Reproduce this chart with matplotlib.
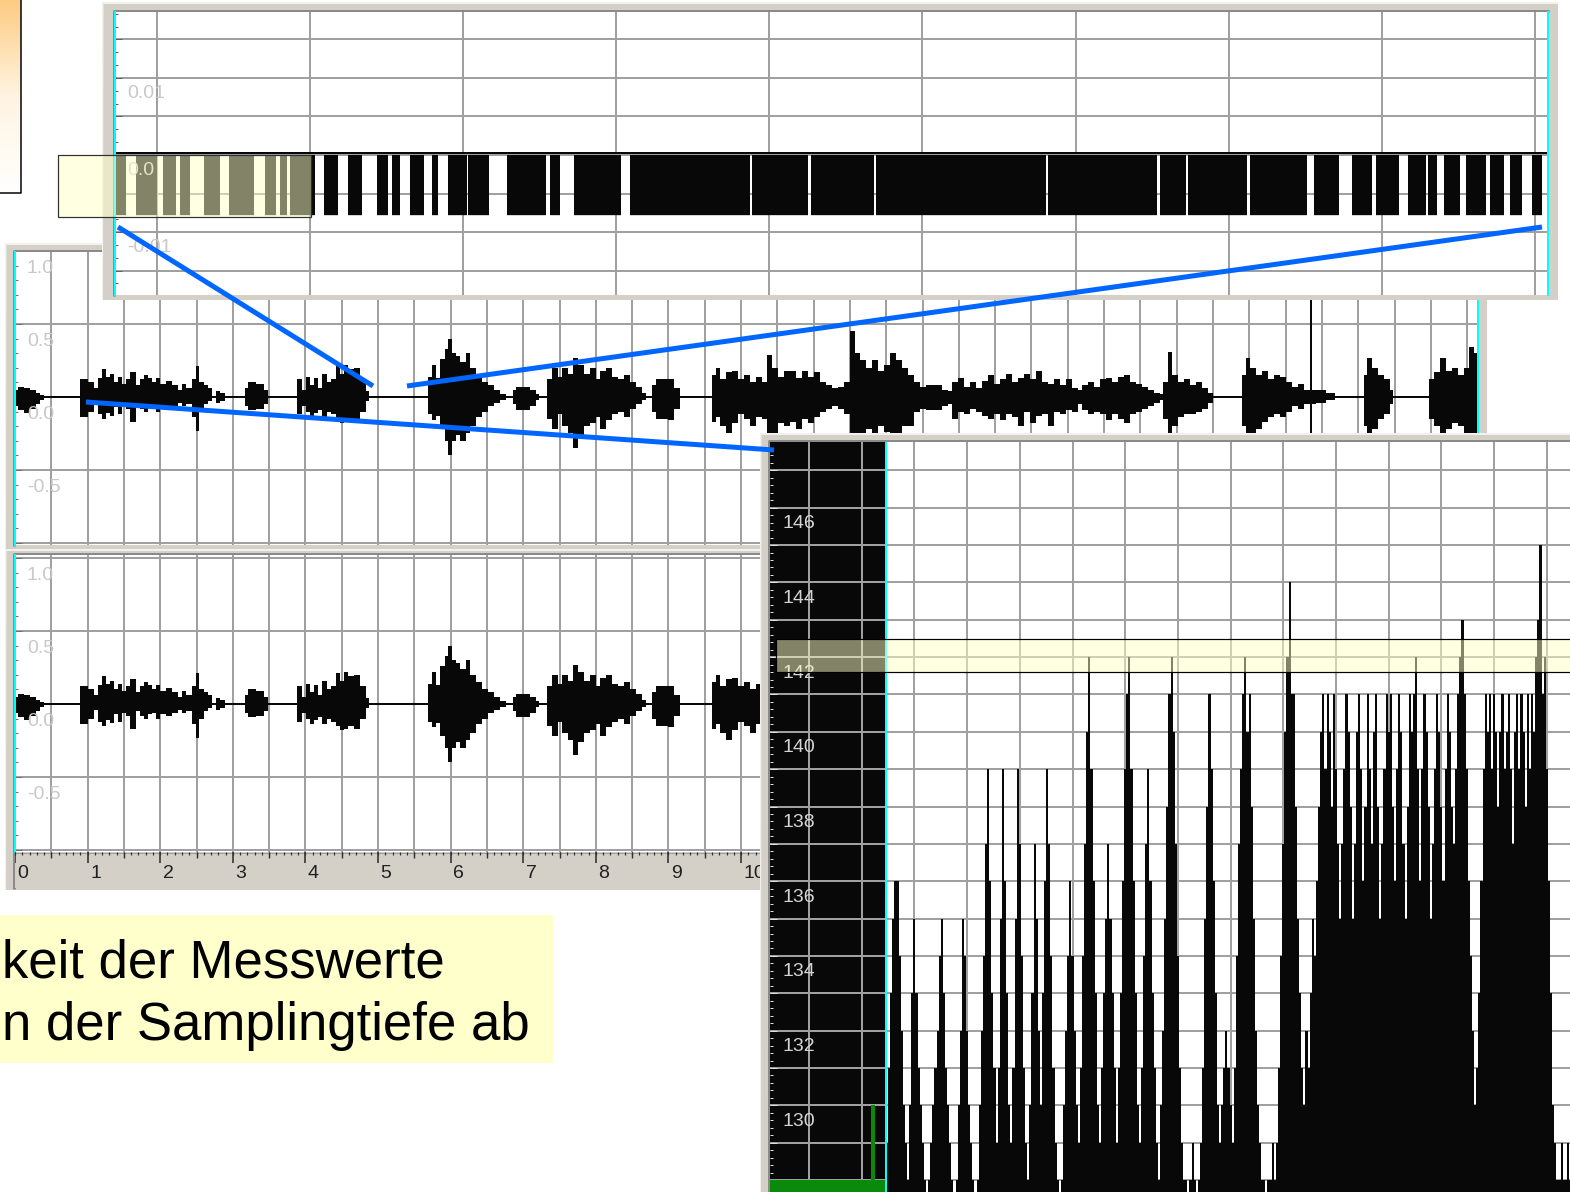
import numpy as np
import matplotlib
matplotlib.use("Agg")
import matplotlib.pyplot as plt
from matplotlib.patches import Rectangle
from matplotlib.colors import LinearSegmentedColormap
from matplotlib.ticker import MultipleLocator, FixedLocator

plt.rcParams["font.family"] = ["Liberation Sans", "DejaVu Sans"]

W, H = 1570, 1192
PX = 0.72  # points per pixel at dpi 100

# ---------------------------------------------------------------- data
# speech waveform envelope: segment start (s), upper and lower peak, held until next start
env_t = [
    0.00, 0.04, 0.12, 0.21, 0.29, 0.34, 0.40, 0.45,
    0.90, 1.01, 1.09, 1.14, 1.20, 1.25, 1.31, 1.36, 1.42, 1.47, 1.53, 1.58, 1.67, 1.72, 1.78,
    1.83, 1.89, 1.94, 2.00, 2.08, 2.16, 2.25, 2.30, 2.36, 2.44, 2.49, 2.53, 2.60, 2.66, 2.71,
    2.77, 2.82, 2.89,
    3.17, 3.21, 3.32, 3.43, 3.48,
    3.88, 3.95, 4.01, 4.06, 4.12, 4.17, 4.23, 4.30, 4.35, 4.42, 4.48, 4.53, 4.59, 4.67, 4.75,
    4.83, 4.88,
    5.69, 5.74, 5.80, 5.85, 5.92, 5.96, 6.02, 6.07, 6.13, 6.21, 6.27, 6.35, 6.43, 6.52, 6.60,
    6.68, 6.76,
    6.86, 6.90, 7.09, 7.18, 7.22,
    7.33, 7.40, 7.48, 7.53, 7.62, 7.69, 7.75, 7.84, 7.92, 8.00, 8.06, 8.14, 8.22, 8.31, 8.39,
    8.47, 8.55, 8.64, 8.69,
    8.77, 8.83, 8.99, 9.08, 9.16,
    9.60, 9.66, 9.71, 9.79, 9.88, 9.96, 10.04, 10.12, 10.21, 10.29,
    10.36, 10.43, 10.51, 10.59, 10.67, 10.76, 10.84, 10.92, 11.01, 11.09,
    11.17, 11.25, 11.34, 11.42, 11.50, 11.57, 11.64, 11.72, 11.80, 11.89,
    11.97, 12.05, 12.13, 12.22, 12.30, 12.38, 12.47, 12.55, 12.77, 12.85,
    12.91, 12.99, 13.07, 13.15, 13.24, 13.32, 13.40, 13.48, 13.57, 13.65,
    13.73, 13.82, 13.90, 13.98, 14.06, 14.15, 14.23, 14.31, 14.39, 14.48,
    14.56, 14.64, 14.70, 14.78, 14.86, 14.94, 15.03, 15.11, 15.19, 15.28,
    15.36, 15.44, 15.52, 15.61, 15.69, 15.77, 15.81, 15.88, 15.94, 16.02,
    16.10, 16.18, 16.27, 16.35, 16.43, 16.50,
    16.90, 16.96, 17.01, 17.09, 17.18, 17.26, 17.34, 17.42, 17.51, 17.59, 17.67, 17.75, 17.84,
    17.87, 17.92, 18.06, 18.18,
    18.58, 18.62, 18.69, 18.77, 18.86, 18.94, 18.98,
    19.48, 19.54, 19.63, 19.71, 19.79, 19.88, 19.96, 20.03, 20.10,
]
env_hi = [
    .05, .07, .06, .05, .03, .015, .01, 0,
    .12, .10, .06, .13, .19, .14, .16, .10, .14, .09, .12, .17, .08, .12, .15,
    .13, .10, .13, .09, .11, .08, .05, .09, .06, .12, .21, .10, .08, .06, .01,
    .04, .03, 0,
    .06, .10, .09, .05, 0,
    .12, .05, .14, .08, .13, .06, .16, .10, .12, .21, .16, .22, .19, .20, .12,
    .04, 0,
    .14, .22, .13, .26, .33, .40, .30, .28, .24, .30, .20, .15, .10, .08, .05,
    .02, 0,
    .05, .07, .05, .02, 0,
    .12, .20, .14, .20, .16, .27, .22, .16, .20, .12, .18, .20, .14, .12, .15,
    .10, .07, .03, 0,
    .08, .12, .12, .06, 0,
    .15, .20, .12, .17, .18, .12, .15, .10, .14, .10,
    .29, .20, .14, .18, .18, .13, .18, .14, .17, .10,
    .08, .06, .07, .10, .45, .30, .25, .20, .25, .18,
    .22, .30, .25, .20, .15, .10, .07, .08, .05, .04,
    .10, .13, .07, .10, .06, .11, .15, .09, .12, .16,
    .10, .13, .16, .12, .18, .10, .09, .12, .08, .12,
    .06, .05, .08, .10, .07, .12, .13, .10, .14, .15,
    .10, .09, .07, .05, .03, .02, .10, .31, .15, .10,
    .12, .08, .10, .06, .03, 0,
    .15, .27, .20, .15, .18, .12, .15, .14, .10, .07, .09, .05, .70,
    .05, .05, .03, 0,
    .15, .27, .20, .15, .12, .05, 0,
    .12, .17, .27, .18, .20, .15, .20, .34, .30,
]
env_lo = [
    -.06, -.09, -.11, -.08, -.05, -.02, -.01, 0,
    -.14, -.10, -.04, -.12, -.15, -.11, -.13, -.07, -.12, -.06, -.08, -.17, -.05, -.08, -.10,
    -.07, -.06, -.10, -.07, -.08, -.06, -.04, -.06, -.05, -.14, -.23, -.10, -.05, -.03, -.01,
    -.04, -.03, 0,
    -.06, -.09, -.08, -.05, 0,
    -.12, -.06, -.10, -.14, -.11, -.09, -.14, -.10, -.12, -.15, -.18, -.17, -.15, -.17, -.10,
    -.03, 0,
    -.12, -.16, -.13, -.22, -.30, -.40, -.30, -.26, -.30, -.25, -.20, -.14, -.10, -.06, -.04,
    -.02, 0,
    -.05, -.09, -.06, -.02, 0,
    -.15, -.22, -.12, -.20, -.25, -.35, -.26, -.20, -.18, -.14, -.22, -.16, -.12, -.10, -.14,
    -.08, -.05, -.02, 0,
    -.10, -.15, -.16, -.08, 0,
    -.17, -.14, -.20, -.25, -.18, -.12, -.15, -.20, -.14, -.15,
    -.30, -.25, -.18, -.20, -.17, -.22, -.15, -.18, -.14, -.10,
    -.08, -.06, -.08, -.12, -.35, -.30, -.28, -.22, -.25, -.20,
    -.24, -.30, -.28, -.20, -.20, -.10, -.08, -.09, -.06, -.05,
    -.15, -.10, -.12, -.08, -.10, -.13, -.15, -.12, -.16, -.12,
    -.14, -.20, -.10, -.18, -.13, -.12, -.20, -.10, -.12, -.09,
    -.10, -.05, -.09, -.12, -.10, -.12, -.16, -.12, -.15, -.18,
    -.12, -.10, -.08, -.06, -.04, -.02, -.15, -.30, -.20, -.14,
    -.12, -.12, -.10, -.08, -.04, 0,
    -.20, -.30, -.25, -.22, -.17, -.14, -.12, -.14, -.10, -.06, -.08, -.05, -.30,
    -.05, -.04, -.02, 0,
    -.20, -.30, -.22, -.15, -.12, -.05, 0,
    -.15, -.20, -.30, -.22, -.18, -.20, -.25, -.35, -.30,
]
wave_end = 20.15

# quantisation noise in a pause: run lengths in samples, alternating 0 and -1 LSB
noise_runs = [
    1, 10, 10, 21, 6, 13, 4, 10, 14, 16, 9, 25, 11, 11, 4, 7, 3, 25, 9, 14,
    10, 14, 15, 11, 4, 8, 10, 14, 8, 6, 10, 19, 1, 21, 18, 39, 4, 10, 14, 47,
    9, 120, 2, 56, 3, 63, 2, 170, 2, 109, 3, 26, 2, 59, 3, 57, 7, 25, 13, 20,
    4, 23, 9, 18, 2, 9, 7, 16, 6, 20, 4, 14, 6, 12, 10, 10, 6,
]
lsb = 1 / 128

# 8-bit sample values, before the cursor (green) and after it (black)
pre_samples = [
    128, 128, 128, 128, 128, 128, 128, 128, 128, 128, 128, 128, 128, 128,
    128, 128, 128, 128, 128, 128, 128, 128, 128, 128, 128, 128, 128, 128,
    128, 128, 128, 128, 128, 128, 128, 128, 128, 128, 128, 128, 128, 128,
    128, 128, 128, 128, 128, 128, 130, 130, 128, 128, 128, 128, 128,
]
pre_start = -18.5
samples = [
    129, 131, 133, 135, 136, 136, 134, 132, 130, 129, 128,
    130, 133, 135, 133, 131, 130, 129, 128, 127, 128,
    129, 130, 131, 132, 134, 135, 133, 131, 130, 129, 128, 127,
    128, 130, 132, 135, 134, 132, 130, 129, 128, 127,
    128, 130, 132, 134, 137, 139, 136, 133, 131, 129,
    131, 135, 139, 136, 133, 130, 129,
    131, 135, 139, 137, 134, 131, 129, 128,
    130, 133, 137, 135, 132, 130,
    133, 136, 139, 137, 134, 131, 129, 128, 127,
    128, 130, 132, 134, 136, 134, 132, 130, 129, 131,
    134, 137, 140, 142, 139, 136, 133, 130,
    129, 131, 133, 135, 137, 135, 133, 131, 129, 131,
    133, 136, 139, 141, 142, 139, 136, 133, 130, 129,
    131, 134, 137, 139, 136, 133, 131, 129, 128, 130,
    132, 135, 138, 141, 142, 140, 137, 134, 131, 129,
    128, 128, 127, 128, 129, 128, 127, 128, 129,
    131, 135, 138, 141, 139, 136, 133, 130, 129,
    130, 131, 132, 131, 130, 129, 131, 134,
    137, 139, 141, 142, 140, 141, 138, 135, 132,
    130, 129, 128, 128, 127, 128, 128, 129, 128, 129, 131,
    134, 137, 140, 142, 144, 141, 141, 138, 135, 133,
    131, 130, 132, 131, 133, 135, 134, 136, 138, 140, 141, 139, 141, 140, 138, 141, 139,
    137, 135,
    137, 139, 141, 140, 138, 135, 137, 140, 141, 139, 136, 138, 141, 139, 137, 140, 141,
    138, 135, 137, 139, 141, 140, 141, 138, 136, 139, 141, 140, 137, 135, 138, 141, 140,
    141, 142, 139, 136, 139, 141,
    140, 138, 135, 137, 139, 141, 140, 138, 136, 139, 141, 140, 138, 137, 139, 141, 142,
    143, 141, 139,
    136, 134, 132, 130, 131, 133, 136, 139, 141, 140, 141, 139, 141, 140, 138,
    140, 141, 139, 140, 141, 139, 137, 140, 141, 139, 141, 140, 138, 141, 139, 141, 140,
    142, 143, 145, 141, 142, 139, 136, 133, 130, 129, 128, 128, 129, 128, 128, 129, 128,
]
sample_start = 36.5

amp_values = [1.0, 0.5, 0.0, -0.5]
amp_labels = ["1.0", "0.5", "0.0", "-0.5"]
noise_values = [0.01, 0.0, -0.01]
noise_labels = ["0.01", "0.0", "-0.01"]
byte_values = [146, 144, 142, 140, 138, 136, 134, 132, 130]
ruler_seconds = list(range(0, 21))
caption = ["keit der Messwerte", "n der Samplingtiefe ab"]

FRAME = "#D4D0C8"
FRAME_DARK = "#8A8A8A"
GRID = "#A0A0A0"
CYAN = "#00FFFF"
LABEL = "#C8C8C8"
INK = "#080808"
BLUE = "#0066FF"
HILITE = (1.0, 1.0, 0.78, 0.5)

assert len(env_t) == len(env_hi) == len(env_lo)

fig = plt.figure(figsize=(W / 100, H / 100), dpi=100)
fig.patch.set_facecolor("white")


def px_axes(x0, y0, x1, y1):
    return fig.add_axes([x0 / W, 1 - y1 / H, (x1 - x0) / W, (y1 - y0) / H])


def frame(outer, inner):
    x0, y0, x1, y1 = outer
    ax = px_axes(*outer)
    ax.set_facecolor(FRAME)
    ax.set_xticks([])
    ax.set_yticks([])
    for s in ax.spines.values():
        s.set_visible(False)
    ax.set_xlim(x0, x1)
    ax.set_ylim(y1, y0)
    ix0, iy0, ix1, iy1 = inner
    ax.plot([x0, x0 + 0.5, x1], [y1, y0 + 1, y0 + 1], color="#F2F1EC", lw=2 * PX)
    ax.plot([ix0 - 1.5, ix0 - 1.5, ix1 + 1], [iy1 + 1, iy0 - 1.5, iy0 - 1.5],
            color=FRAME_DARK, lw=3 * PX, solid_capstyle="butt")
    return ax


def plot_area(inner, xlim, ylim):
    ax = px_axes(*inner)
    ax.set_xlim(*xlim)
    ax.set_ylim(*ylim)
    for s in ax.spines.values():
        s.set_visible(False)
    ax.tick_params(which="both", bottom=False, labelbottom=False, labelleft=False)
    ax.grid(True, which="major", color=GRID, lw=2 * PX)
    ax.set_axisbelow(True)
    return ax


def edge_ticks(ax, major, minor, color):
    ax.yaxis.set_major_locator(MultipleLocator(major))
    ax.yaxis.set_minor_locator(MultipleLocator(minor))
    ax.tick_params(axis="y", which="major", left=True, direction="in",
                   length=5, width=PX, color=color)
    ax.tick_params(axis="y", which="minor", left=True, direction="in",
                   length=2.5, width=PX, color=color)


# ---------------------------------------------------------------- background
bg = fig.add_axes([0, 0, 1, 1])
bg.axis("off")
grad = np.linspace(0, 1, 256)[:, None]
orange = LinearSegmentedColormap.from_list("orange", ["#FDCB82", "#FFF4E2", "#FFFFFF"])
bg.imshow(grad, extent=(-1, 21, 193, -1), cmap=orange, aspect="auto", origin="upper")
bg.plot([21, 21, -1], [-1, 193, 193], color="black", lw=1.5 * PX)
bg.add_patch(Rectangle((0, 915), 553, 148, fc="#FFFFCC", ec="none"))
bg.text(2, 977, caption[0], fontsize=38, va="baseline", ha="left", color="black")
bg.text(2, 1040, caption[1], fontsize=38, va="baseline", ha="left", color="black")
bg.set_xlim(0, W)
bg.set_ylim(H, 0)


def waveform(ax):
    edges = np.append(env_t, wave_end)
    ax.stairs(env_hi, edges, baseline=env_lo, fill=True, color=INK, lw=0, zorder=2)
    ax.axhline(0, color=INK, lw=2 * PX, zorder=2)
    ax.xaxis.set_major_locator(MultipleLocator(0.5))
    edge_ticks(ax, 0.5, 0.1, "#707070")
    for v, s in zip(amp_values, amp_labels):
        ax.text(0.165, v - 0.06, s, color=LABEL, fontsize=14, va="top", ha="left", zorder=5)
    for x in ax.get_xlim():
        ax.axvline(x, color=CYAN, lw=2 * PX, clip_on=False, zorder=4)


# ---------------------------------------------------------------- channel 1
frame((5, 243, 1487, 549), (15, 252, 1478, 545))
ch1 = plot_area((15, 252, 1478, 545), (0, wave_end), (-1.014, 0.993))
waveform(ch1)

# ---------------------------------------------------------------- channel 2 + time ruler
frame((5, 549, 1487, 890), (15, 555, 1478, 888))
ch2 = plot_area((15, 555, 1478, 852), (0, wave_end), (-1.014, 1.021))
waveform(ch2)

ruler = px_axes(15, 852, 1478, 888)
ruler.set_facecolor(FRAME)
for s in ruler.spines.values():
    s.set_visible(False)
ruler.set_xlim(0, wave_end)
ruler.set_ylim(36, 0)
ruler.set_xticks([])
ruler.set_yticks([])
ruler.axhline(0.5, color="#9A9A9A", lw=PX)
tenths = np.arange(0, wave_end, 0.1)
ruler.vlines(tenths, 0, 2.5, color="#303030", lw=1.2 * PX)
ruler.vlines(np.arange(0.5, wave_end, 1.0), 0, 6, color="#303030", lw=1.4 * PX)
ruler.vlines(ruler_seconds, 0, 11, color="#303030", lw=1.6 * PX)
for s in ruler_seconds:
    ruler.text(s + 0.035, 13, str(s), fontsize=14, va="top", ha="left", color="#202020")

# ---------------------------------------------------------------- zoomed pause (noise)
frame((102, 2, 1558, 300), (115, 12, 1548, 295))
n_total = sum(noise_runs)
top = plot_area((115, 12, 1548, 295), (0, n_total), (-0.01818, 0.01857))
top.xaxis.set_major_locator(FixedLocator(np.arange(42, n_total, 153.1)))
edge_ticks(top, 0.005, 0.005 / 3, "#606060")
run_levels = np.where(np.arange(len(noise_runs)) % 2 == 0, 0.0, -lsb)
levels = np.repeat(run_levels, noise_runs)
top.stairs(levels, np.arange(len(levels) + 1), baseline=0, fill=True, color=INK, lw=0, zorder=2)
top.axhline(0.0002, color=INK, lw=2 * PX, zorder=2)
for v, s in zip(noise_values, noise_labels):
    top.text(12, v - 0.0009, s, color=LABEL, fontsize=14, va="top", ha="left", zorder=3)
top.add_patch(Rectangle((-57, -0.0081), 253, 0.0081, fc=HILITE, ec="#303030",
                        lw=1.2 * PX, clip_on=False, zorder=6))
for x in (0, n_total):
    top.axvline(x, color=CYAN, lw=2 * PX, clip_on=False, zorder=4)

# ---------------------------------------------------------------- zoomed samples (8 bit)
frame((760, 433, 1572, 1194), (770, 442, 1570, 1192))
y_low, y_high = 127.68, 147.76
smp = plot_area((770, 442, 1570, 1192), (-18.5, 361.0), (y_low, y_high))
smp.xaxis.set_major_locator(MultipleLocator(25))
edge_ticks(smp, 1, 0.2, "#E0E0E0")
smp.add_patch(Rectangle((-18.5, y_low), sample_start + 18.5, y_high - y_low,
                        fc=INK, ec="none", zorder=0.3))
smp.stairs(pre_samples, pre_start + np.arange(len(pre_samples) + 1), baseline=y_low,
           fill=True, color="#0A8A0A", lw=0, zorder=2)
smp.stairs(samples, sample_start + np.arange(len(samples) + 1), baseline=y_low,
           fill=True, color=INK, lw=0, zorder=2)
smp.axvline(sample_start, color=CYAN, lw=2 * PX, zorder=4)
for v in byte_values:
    smp.text(-12.8, v - 0.2, str(v), color="#D4D4D4", fontsize=14, va="top", ha="left",
             zorder=5, clip_on=True)
smp.add_patch(Rectangle((-15.65, 141.6), 400, 0.88, fc=HILITE, ec="black", lw=1.2 * PX, zorder=6))

# ---------------------------------------------------------------- zoom connectors
ov = fig.add_axes([0, 0, 1, 1])
ov.axis("off")
ov.patch.set_visible(False)
ov.set_xlim(0, W)
ov.set_ylim(H, 0)
ov.plot([118, 373], [227, 386], color=BLUE, lw=5 * PX, solid_capstyle="butt")
ov.plot([1542, 407], [227, 386], color=BLUE, lw=5 * PX, solid_capstyle="butt")
ov.plot([86, 774], [402, 450], color=BLUE, lw=5 * PX, solid_capstyle="butt")

fig.savefig("out.png", dpi=100, facecolor="white")
